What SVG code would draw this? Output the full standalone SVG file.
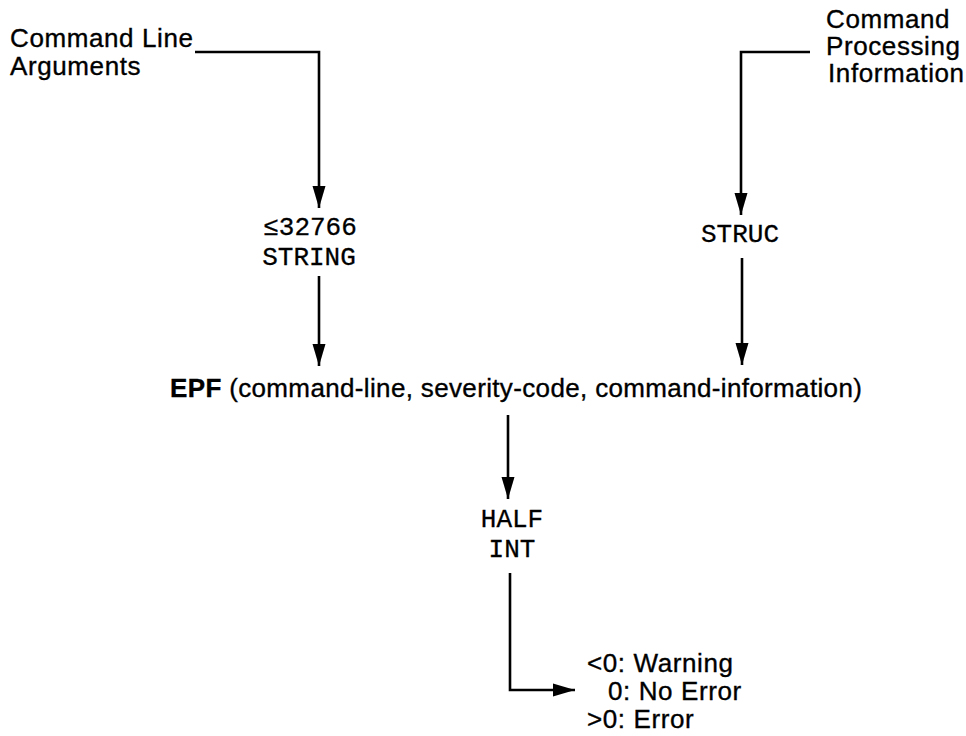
<svg xmlns="http://www.w3.org/2000/svg" width="966" height="736" viewBox="0 0 966 736">
<style>
.sans{font-family:"Liberation Sans",Arial,sans-serif;font-size:26px;fill:#000;stroke:#000;stroke-width:0.35;letter-spacing:0.6px}
.mono{font-family:"Liberation Mono","Courier New",monospace;font-size:26px;fill:#000;stroke:#000;stroke-width:0.3;text-anchor:middle}
.conn{fill:none;stroke:#000;stroke-width:2.6}
</style>
<defs>
<marker id="ah" markerUnits="userSpaceOnUse" markerWidth="23" markerHeight="15" refX="22" refY="7.5" orient="auto">
<path d="M0,1 L22,7.5 L0,14 z" fill="#000"/>
</marker>
</defs>
<rect width="966" height="736" fill="#fff"/>
<g id="connectors">
<path class="conn" d="M195,52 H319 V208" marker-end="url(#ah)"/>
<path class="conn" d="M319,276 V366" marker-end="url(#ah)"/>
<path class="conn" d="M810,52 H741 V215" marker-end="url(#ah)"/>
<path class="conn" d="M742,258 V365" marker-end="url(#ah)"/>
<path class="conn" d="M508,415 V499" marker-end="url(#ah)"/>
<path class="conn" d="M510,573 V690 H575" marker-end="url(#ah)"/>
</g>
<g id="cmdline">
<text class="sans" x="10" y="47">Command Line</text>
<text class="sans" x="10" y="75">Arguments</text>
</g>
<g id="cmdproc">
<text class="sans" x="826" y="28">Command</text>
<text class="sans" x="826" y="55">Processing</text>
<text class="sans" x="828" y="82">Information</text>
</g>
<g id="string">
<text class="mono" x="310" y="235">≤32766</text>
<text class="mono" x="309" y="265">STRING</text>
</g>
<g id="struc">
<text class="mono" x="740" y="242">STRUC</text>
</g>
<g id="epf">
<text class="sans" x="170" y="397" style="letter-spacing:0.35px"><tspan font-weight="bold">EPF</tspan> (command-line, severity-code, command-information)</text>
</g>
<g id="halfint">
<text class="mono" x="512" y="527">HALF</text>
<text class="mono" x="512" y="557">INT</text>
</g>
<g id="result">
<text class="sans" x="587" y="672">&lt;0: Warning</text>
<text class="sans" x="608" y="700">0: No Error</text>
<text class="sans" x="587" y="728">&gt;0: Error</text>
</g>
</svg>
